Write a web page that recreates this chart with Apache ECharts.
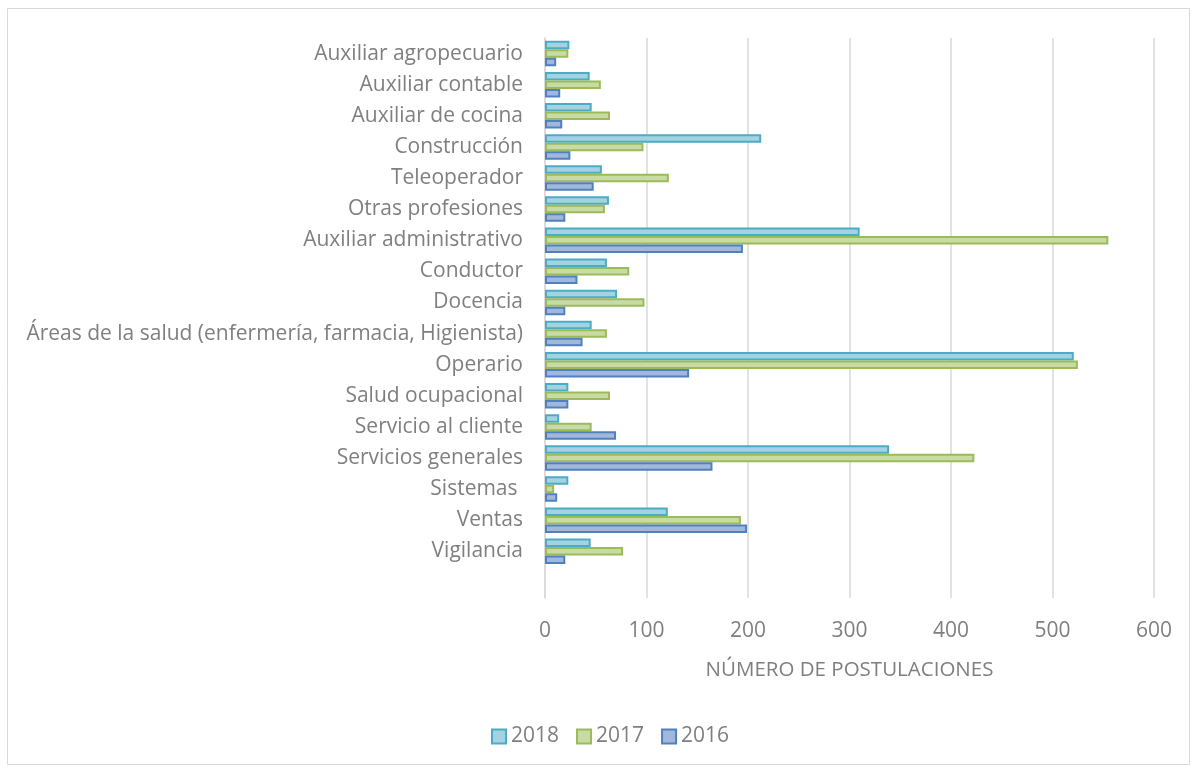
<!DOCTYPE html>
<html>
<head>
<meta charset="utf-8">
<script src="https://cdn.jsdelivr.net/npm/echarts@6/dist/echarts.min.js"></script>
<style>html,body{margin:0;padding:0;background:#fff;}#c{width:1193px;height:769px;}</style>
</head>
<body>
<div id="c"></div>
<script>
const categories = ['Auxiliar agropecuario','Auxiliar contable','Auxiliar de cocina','Construcción','Teleoperador','Otras profesiones','Auxiliar administrativo','Conductor','Docencia','Áreas de la salud (enfermería, farmacia, Higienista)','Operario','Salud ocupacional','Servicio al cliente','Servicios generales','Sistemas ','Ventas','Vigilancia',''];
const v2018 = [24,44,46,213,56,63,310,61,71,46,521,23,14,339,23,121,45,null];
const v2017 = [23,55,64,97,122,59,555,83,98,61,525,64,46,423,9,193,77,null];
const v2016 = [11,15,17,25,48,20,195,32,20,37,142,23,70,165,12,199,20,null];
const seriesNames = ['2018','2017','2016'];
const xTicks = {min:0,max:600,interval:100};
const axisName = 'NÚMERO DE POSTULACIONES';

const FONT = '"Open Sans", Lato, sans-serif';
const styles = [
  {color:'#a5d2e0', borderColor:'#4bacc6'},
  {color:'#c9dba5', borderColor:'#9bbb59'},
  {color:'#a1b7dc', borderColor:'#4f81bd'}
];
const data = [v2018, v2017, v2016];
const chart = echarts.init(document.getElementById('c'));
chart.setOption({
  animation:false,
  textStyle:{fontFamily:FONT},
  graphic:[{type:'rect',shape:{x:7.5,y:8.5,width:1182,height:756},style:{fill:'none',stroke:'#d9d9d9',lineWidth:1},z:-1}],
  grid:{left:545,right:39,top:38,bottom:171,containLabel:false},
  legend:{
    data:seriesNames, top:721, left:486, itemWidth:14, itemHeight:14, itemGap:17,
    icon:'rect',
    textStyle:{fontSize:21,color:'#7f7f7f',fontFamily:FONT}
  },
  xAxis:{
    type:'value', min:xTicks.min, max:xTicks.max, interval:xTicks.interval,
    name:axisName, nameLocation:'middle', nameGap:62,
    nameTextStyle:{fontSize:20.5,color:'#7f7f7f',fontFamily:FONT},
    axisLabel:{fontSize:21,color:'#7f7f7f',margin:23,fontFamily:FONT},
    axisLine:{show:false}, axisTick:{show:false},
    splitLine:{lineStyle:{color:'#d9d9d9',width:1.5}}
  },
  yAxis:{
    type:'category', data:categories, inverse:true,
    axisLine:{show:true,lineStyle:{color:'#d9d9d9',width:1.5}},
    axisTick:{show:false},
    axisLabel:{fontSize:21,color:'#7f7f7f',margin:22,fontFamily:FONT,interval:0}
  },
  series: seriesNames.map((n,i)=>({
    name:n, type:'bar', data:data[i], barWidth:8.5, barGap:'0%',
    itemStyle:{color:styles[i].color,borderColor:styles[i].borderColor,borderWidth:2}
  }))
});
</script>
</body>
</html>
